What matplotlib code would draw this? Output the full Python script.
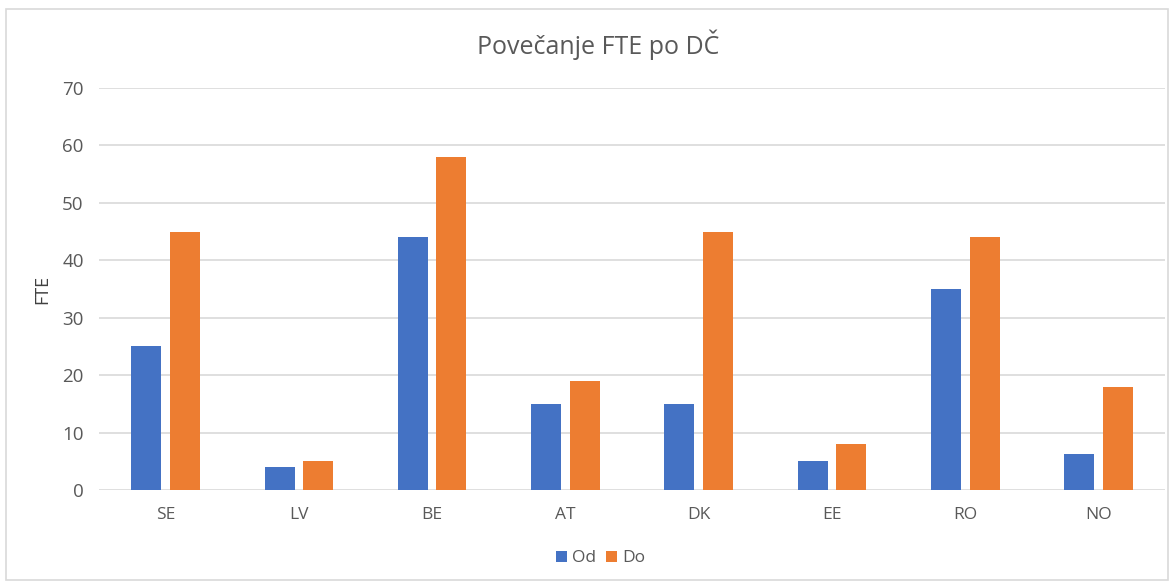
import matplotlib
matplotlib.use("Agg")
import matplotlib.pyplot as plt
import numpy as np

# data
countries = ["SE", "LV", "BE", "AT", "DK", "EE", "RO", "NO"]
od = [25, 4, 44, 15, 15, 5, 35, 6.2]
do = [45, 5, 58, 19, 45, 8, 44, 18]
yticks = [0, 10, 20, 30, 40, 50, 60, 70]

plt.rcParams['font.family'] = ['Open Sans', 'DejaVu Sans']
grey = "#595959"

fig = plt.figure(figsize=(11.71, 5.81), dpi=100)
ax = fig.add_axes([0.0845, 0.1566, 0.9105, 0.6919])

x = np.arange(len(countries))
w = 0.225
off = 0.145
ax.bar(x - off, od, w, color="#4472C4", label="Od", zorder=3)
ax.bar(x + off, do, w, color="#ED7D31", label="Do", zorder=3)

ax.set_xlim(-0.5, len(countries) - 0.5)
ax.set_ylim(0, 70)
ax.set_yticks(yticks)
ax.set_xticks(x)
ax.set_xticklabels(countries)
ax.tick_params(axis="y", length=0, pad=11, labelsize=13.5, labelcolor=grey)
ax.tick_params(axis="x", length=0, pad=12, labelsize=12.5, labelcolor=grey)
ax.grid(axis="y", color="#D9D9D9", linewidth=1.2, zorder=0)
for s in ax.spines.values():
    s.set_visible(False)

ax.set_ylabel("FTE", fontsize=13, color="#404040", labelpad=8)
fig.text(0.511, 0.923, "Povečanje FTE po DČ", ha="center", va="center",
         fontsize=18, color=grey)

fig.legend(loc="center", bbox_to_anchor=(0.513, 0.039), ncol=2, frameon=False,
           fontsize=12.5, handlelength=0.6, handleheight=0.6, handletextpad=0.3,
           columnspacing=0.6, labelcolor=grey)

# outer chart border
fig.patches.append(plt.Rectangle((6 / 1171, 1 / 581), 1162 / 1171, 571 / 581,
                                 transform=fig.transFigure, fill=False,
                                 edgecolor="#D9D9D9", linewidth=1.2))

fig.savefig("out.png", dpi=100)
